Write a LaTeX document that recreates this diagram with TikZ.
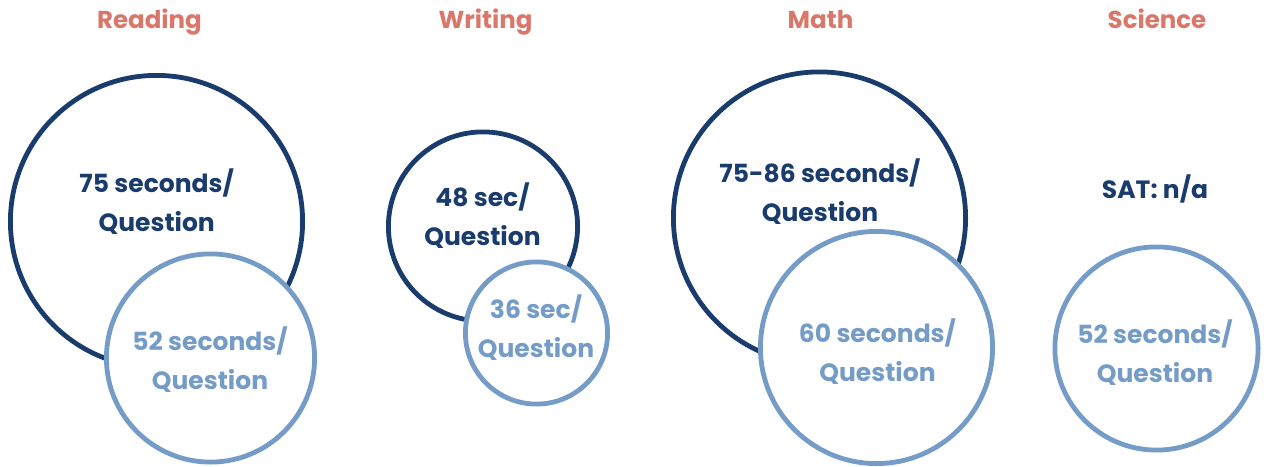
\documentclass[tikz,border=0pt]{standalone}
\usepackage{fontspec}
\setmainfont{Poppins}
\definecolor{navy}{HTML}{1A3C6C}
\definecolor{lightblue}{HTML}{759BC7}
\definecolor{salmon}{HTML}{D9786A}
\begin{document}
\begin{tikzpicture}[x=1pt,y=-1pt,
  title/.style={text=salmon, anchor=base, inner sep=0pt, font=\fontsize{24.5pt}{28pt}\selectfont\bfseries},
  darkring/.style={circle, draw=navy, line width=4.8pt, inner sep=0pt},
  lightring/.style={circle, draw=lightblue, fill=white, line width=4.8pt, inner sep=0pt},
  darktext/.style={text=navy, align=center, anchor=base, inner sep=0pt, font=\fontsize{25pt}{39pt}\selectfont\bfseries},
  lighttext/.style={text=lightblue, align=center, anchor=base, inner sep=0pt, font=\fontsize{25pt}{39pt}\selectfont\bfseries}]
\useasboundingbox (0,0) rectangle (1264,466);
% titles
\node[title] (tR) at (149.5,28) {Reading};
\node[title] (tW) at (485.5,28) {Writing};
\node[title] (tM) at (820.5,28) {Math};
\node[title] (tS) at (1157,28) {Science};
% Reading (base anchor = baseline of the last line)
\node[darkring, minimum size=292.2pt] (rD) at (156.5,221.5) {};
\node[lightring, minimum size=208.2pt] (rL) at (210.5,358) {};
\node[darktext] (rDt) at (156.7,231) {75 seconds/\\Question};
\node[lighttext] (rLt) at (210,389.5) {52 seconds/\\Question};
% Writing
\node[darkring, minimum size=189.2pt] (wD) at (483,226.5) {};
\node[lightring, minimum size=142.2pt] (wL) at (536.5,333) {};
\node[darktext] (wDt) at (482.5,245.5) {48 sec/\\Question};
\node[lighttext] (wLt) at (536,357) {36 sec/\\Question};
% Math
\node[darkring, minimum size=292.2pt] (mD) at (819.5,218) {};
\node[lightring, minimum size=232.2pt] (mL) at (876.5,347.5) {};
\node[darktext] (mDt) at (820,221) {75-86 seconds/\\Question};
\node[lighttext] (mLt) at (877.5,381) {60 seconds/\\Question};
% Science
\node[darktext] (sT) at (1155,198) {SAT: n/a};
\node[lightring, minimum size=203.2pt] (sL) at (1156.5,348.5) {};
\node[lighttext] (sLt) at (1155,382) {52 seconds/\\Question};
\end{tikzpicture}
\end{document}
